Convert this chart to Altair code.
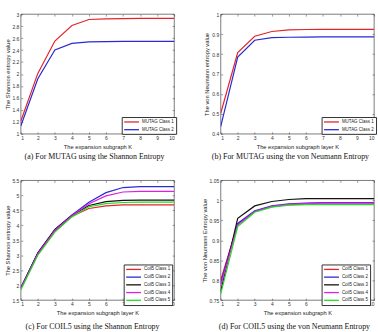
import altair as alt
import pandas as pd

# Expansion layer K on the horizontal axis
K = list(range(1, 11))

# (a) MUTAG, Shannon entropy
mutag_names = ["MUTAG Class 1", "MUTAG Class 2"]
mutag_colors = ["#e3242b", "#2a2ad4"]
a_class1 = [1.21, 2.01, 2.55, 2.81, 2.91, 2.92, 2.925, 2.93, 2.93, 2.93]
a_class2 = [1.13, 1.92, 2.40, 2.51, 2.535, 2.54, 2.545, 2.545, 2.545, 2.545]
a_yticks = [1, 1.2, 1.4, 1.6, 1.8, 2, 2.2, 2.4, 2.6, 2.8, 3]

# (b) MUTAG, von Neumann entropy
b_class1 = [0.502, 0.807, 0.889, 0.913, 0.921, 0.923, 0.924, 0.924, 0.924, 0.924]
b_class2 = [0.436, 0.785, 0.869, 0.882, 0.884, 0.885, 0.886, 0.886, 0.886, 0.886]
b_yticks = [0.4, 0.5, 0.6, 0.7, 0.8, 0.9, 1]

# (c) COIL5, Shannon entropy
coil_names = ["Coil5 Class 1", "Coil5 Class 2", "Coil5 Class 3", "Coil5 Class 4", "Coil5 Class 5"]
coil_colors = ["#e3242b", "#2a2ad4", "#111111", "#e020e0", "#22dd22"]
c_class1 = [1.88, 3.03, 3.80, 4.30, 4.56, 4.65, 4.68, 4.68, 4.68, 4.68]
c_class2 = [1.91, 3.08, 3.86, 4.34, 4.77, 5.09, 5.26, 5.29, 5.29, 5.29]
c_class3 = [1.90, 3.07, 3.85, 4.33, 4.66, 4.79, 4.83, 4.84, 4.84, 4.84]
c_class4 = [1.89, 3.05, 3.83, 4.32, 4.72, 4.98, 5.11, 5.13, 5.13, 5.13]
c_class5 = [1.84, 3.00, 3.77, 4.28, 4.62, 4.72, 4.76, 4.77, 4.77, 4.77]
c_yticks = [1.5, 2, 2.5, 3, 3.5, 4, 4.5, 5, 5.5]

# (d) COIL5, von Neumann entropy
d_class1 = [0.800, 0.940, 0.972, 0.984, 0.989, 0.990, 0.990, 0.990, 0.990, 0.990]
d_class2 = [0.792, 0.942, 0.974, 0.986, 0.991, 0.993, 0.994, 0.994, 0.994, 0.994]
d_class3 = [0.772, 0.955, 0.986, 0.997, 1.002, 1.004, 1.004, 1.004, 1.004, 1.004]
d_class4 = [0.785, 0.938, 0.972, 0.985, 0.990, 0.992, 0.993, 0.993, 0.993, 0.993]
d_class5 = [0.765, 0.934, 0.970, 0.983, 0.988, 0.989, 0.989, 0.989, 0.989, 0.989]
d_yticks = [0.75, 0.8, 0.85, 0.9, 0.95, 1, 1.05]

SANS = "Liberation Sans"
SERIF = "Liberation Serif"
INWARD = {"expr": "-2"}  # ticks pointing into the plot box
PW, PH = 155, 121


def panel(names, values, colors, y_ticks, x_title, y_title, caption,
          y_title_x, legend_x, legend_y, caption_dx, caption_offset):
    rows = []
    for name, vals in zip(names, values):
        for k, v in zip(K, vals):
            rows.append({"K": k, "value": v, "series": name})
    df = pd.DataFrame(rows)

    x_scale = alt.Scale(domain=[1, 10], nice=False)
    y_scale = alt.Scale(domain=[y_ticks[0], y_ticks[-1]], nice=False, zero=False)

    lines = alt.Chart(df).mark_line(strokeWidth=1.2, clip=True).encode(
        x=alt.X("K:Q", scale=x_scale,
                axis=alt.Axis(orient="bottom", values=K, title=x_title,
                              tickSize=INWARD, labelPadding=3.5, titleY=12.5,
                              titleBaseline="middle")),
        y=alt.Y("value:Q", scale=y_scale,
                axis=alt.Axis(orient="left", values=y_ticks, title=y_title,
                              tickSize=INWARD, labelPadding=4,
                              titleX=y_title_x, titleBaseline="middle",
                              labelExpr="datum.value + ''")),
        color=alt.Color("series:N", sort=names,
                        scale=alt.Scale(domain=names, range=colors),
                        legend=alt.Legend(
                            title=None, orient="none",
                            legendX=legend_x, legendY=legend_y,
                            direction="vertical", symbolType="M-1,0H5",
                            symbolSize=25, symbolStrokeWidth=1.3,
                            labelFontSize=4.5, labelFont=SANS,
                            labelColor="#222", labelOffset=12,
                            strokeColor="#333", fillColor="white",
                            padding=1.5, rowPadding=0.8,
                            cornerRadius=0)),
    )

    # invisible layer carrying the tick marks on the top and right edges
    frame = alt.Chart(df).mark_point(opacity=0).encode(
        x=alt.X("K:Q", scale=x_scale,
                axis=alt.Axis(orient="top", values=K, labels=False,
                              title=None, tickSize=INWARD)),
        y=alt.Y("value:Q", scale=y_scale,
                axis=alt.Axis(orient="right", values=y_ticks, labels=False,
                              title=None, tickSize=INWARD)),
    )

    return alt.layer(lines, frame).resolve_axis(
        x="independent", y="independent"
    ).properties(
        width=PW, height=PH,
        title=alt.TitleParams(caption, orient="bottom", frame="group",
                              offset=caption_offset, dx=caption_dx,
                              baseline="middle", font=SERIF, fontSize=8,
                              fontWeight="normal", color="#111"),
    )


pa = panel(mutag_names, [a_class1, a_class2], mutag_colors, a_yticks,
           "The expansion subgraph K", "The Shannon entropy value",
           "(a)  For MUTAG using the Shannon Entropy", -13, 102, 104, -3, 8.5)
pb = panel(mutag_names, [b_class1, b_class2], mutag_colors, b_yticks,
           "The expansion subgraph layer K", "The von Neumann entropy value",
           "(b)  For MUTAG using the von Neumann Entropy", -14, 102, 104, -7, 8.5)
pc = panel(coil_names, [c_class1, c_class2, c_class3, c_class4, c_class5],
           coil_colors, c_yticks,
           "The expansion subgraph layer K", "The Shannon entropy value",
           "(c)  For COIL5 using the Shannon Entropy", -13, 104, 85, -5, 12)
pd_ = panel(coil_names, [d_class1, d_class2, d_class3, d_class4, d_class5],
            coil_colors, d_yticks,
            "The expansion subgraph K", "The von Neumann Entropy value",
            "(d)  For COIL5 using the von Neumann Entropy", -16, 102, 85, -3, 12)

chart = alt.concat(pa, pb, pc, pd_, columns=2, spacing=47, bounds="flush").resolve_scale(
    color="independent"
).properties(
    padding={"left": 4, "top": 9.5, "right": 0, "bottom": 0},
    background="white",
).configure_view(
    stroke="#222", strokeWidth=0.6
).configure_axis(
    grid=False, domain=False,
    labelFont=SANS, labelFontSize=5, labelColor="#333",
    titleFont=SANS, titleFontSize=5.8, titleFontWeight="normal",
    titleColor="#222", tickColor="#333", tickWidth=0.5,
)

chart.save("out.html", embed_options={"renderer": "svg", "actions": False})
